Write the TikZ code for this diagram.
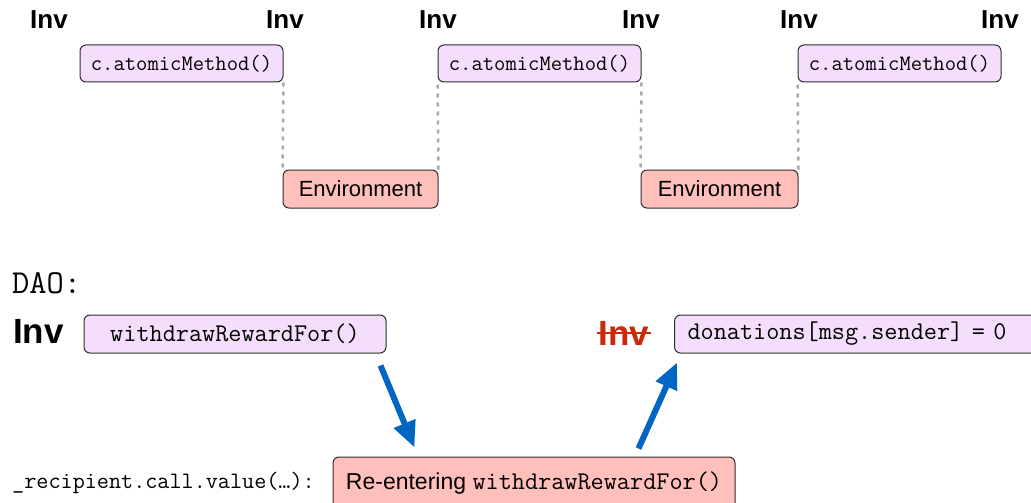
\documentclass[tikz,border=0pt]{standalone}
\usepackage{fontspec}
\setmainfont{Liberation Sans}
\usetikzlibrary{
	positioning				% Allows left=of style positioning
	, arrows.meta			% Allows Triangle style arrow tips.
	, calc					% Allows ($(a)+(b)$) coordinates
}

\definecolor{methodfill}{RGB}{244,222,252}
\definecolor{envfill}{RGB}{255,191,186}
\definecolor{boxline}{RGB}{45,45,45}
\definecolor{gapgray}{RGB}{170,170,170}
\definecolor{flowblue}{RGB}{0,102,196}
\definecolor{brokenred}{RGB}{204,40,10}

\begin{document}
\begin{tikzpicture}[
		x=1pt, y=-1pt
		, callbox/.style={draw=boxline, line width=1pt, rounded corners=6pt, fill=methodfill, inner sep=0pt, minimum height=37pt}
		, envbox/.style={callbox, fill=envfill, minimum height=38pt, font=\fontsize{22}{26}\selectfont}
		, invlabel/.style={anchor=base, inner sep=0pt, font=\fontsize{26}{30}\selectfont\bfseries}
		, biginv/.style={invlabel, font=\fontsize{35}{40}\selectfont\bfseries}
		, gapline/.style={draw=gapgray, line width=2.5pt, dash pattern=on 4pt off 5pt}
		, flow/.style={draw=flowblue, line width=6pt, -{Triangle[length=26pt,width=22pt]}}
	]
	\clip (0,0) rectangle (1031,503);

	% Invariant markers along the top row
	\foreach \x in {49,285,438,641,799,1000}
		\node[invlabel] (inv\x) at (\x,29) {Inv};

	% Draw the three atomic calls
	\foreach [count=\i] \x in {181.5,539.5,899.5}
		\node[callbox, minimum width=203pt, font=\ttfamily\fontsize{22}{25}\selectfont] (call\i) at (\x,63.5) {c.atomicMethod()};

	% Environment steps in between
	\node[envbox, minimum width=155pt] (env1) at (360.5,189) {Environment};
	\node[envbox, minimum width=157pt] (env2) at (719.5,189) {Environment};

	% Dotted hand-over lines
	\draw[gapline] (call1.south east) -- (env1.north west);
	\draw[gapline] (env1.north east) -- (call2.south west);
	\draw[gapline] (call2.south east) -- (env2.north west);
	\draw[gapline] (env2.north east) -- (call3.south west);

	% DAO example
	\node[anchor=base west, inner sep=0pt, font=\ttfamily\fontsize{33.5}{38}\selectfont] (dao) at (12,293) {DAO:};
	\node[biginv, anchor=base west] (daoinv) at (13,343) {Inv};
	\node[callbox, minimum width=302pt, minimum height=38pt, font=\ttfamily\fontsize{25.5}{29}\selectfont] (withdraw) at (235,334) {withdrawRewardFor()};

	\node[biginv, text=brokenred] (brokeninv) at (624,345) {Inv};
	\draw[brokenred, line width=2pt] ([xshift=-2pt]brokeninv.west) -- ([xshift=2pt]brokeninv.east);
	\node[callbox, anchor=west, minimum height=38pt, inner xsep=13pt, text width=354pt, align=left, font=\ttfamily\fontsize{25.5}{29}\selectfont] (reset) at (674,334) {donations[msg.sender] = 0};

	\node[callbox, fill=envfill, minimum width=402pt, minimum height=52pt, font=\fontsize{23}{27}\selectfont] (reenter) at (534,483) {Re-entering {\ttfamily\fontsize{25.5}{29}\selectfont withdrawRewardFor()}};
	\node[anchor=base east, inner sep=0pt, font=\ttfamily\fontsize{23.5}{27}\selectfont] (recipient) at (315,488) {\_recipient.call.value(…):};

	% Call goes out and comes back in
	\draw[flow] ($(withdraw.south east)+(-6,12)$) -- ($(reenter.north west)+(82,-9)$);
	\draw[flow] ($(reenter.north east)+(-97,-8)$) -- ($(reset.south west)+(3,9)$);
\end{tikzpicture}
\end{document}
